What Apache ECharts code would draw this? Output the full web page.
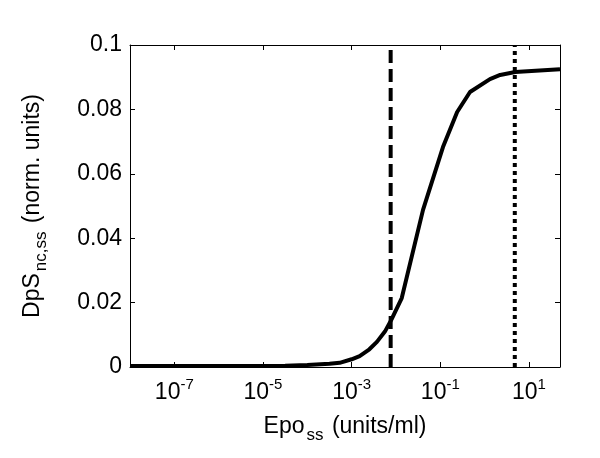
<!DOCTYPE html>
<html>
<head>
<meta charset="utf-8">
<script src="https://cdn.jsdelivr.net/npm/echarts@6/dist/echarts.min.js"></script>
<style>
  html, body { margin: 0; padding: 0; background: #fff; }
  #chart { width: 600px; height: 458px; }
</style>
</head>
<body>
<div id="chart"></div>
<script>
// log10(Epo_ss) and DpS_nc,ss
var epoLog = [-8, -7, -6, -5, -4.5, -4, -3.5, -3.27, -3, -2.82, -2.6, -2.43, -2.25, -2.1, -1.87, -1.39, -0.94, -0.62, -0.33, 0.12, 0.35, 0.69, 1.7];
var dpsValues = [0.0003, 0.0003, 0.0003, 0.0003, 0.0004, 0.0006, 0.0010, 0.0013, 0.0024, 0.0034, 0.0055, 0.0078, 0.0110, 0.0148, 0.0214, 0.0488, 0.0683, 0.0792, 0.0854, 0.0894, 0.0907, 0.0916, 0.0925];
var xTicks = [-7, -5, -3, -1, 1];
var dashedAt = -2.12;   // log10 position of the dashed marker
var dottedAt = 0.68;    // log10 position of the dotted marker

var fontFam = '"Liberation Sans", Arial, sans-serif';

var curve = [];
for (var i = 0; i < epoLog.length; i++) {
    curve.push([epoLog[i], dpsValues[i]]);
}

var frameLine = { show: true, onZero: false, lineStyle: { color: '#000', width: 1 } };
var innerTick = { show: true, inside: true, length: 5, lineStyle: { color: '#000' } };

var chart = echarts.init(document.getElementById('chart'));

chart.setOption({
    animation: false,
    grid: { left: 130, right: 40, top: 45, bottom: 91, containLabel: false },
    xAxis: [{
        type: 'value',
        min: -8,
        max: 1.7,
        interval: 1,
        splitLine: { show: false },
        axisLine: frameLine,
        axisTick: Object.assign({ customValues: xTicks }, innerTick),
        axisLabel: {
            customValues: xTicks,
            margin: 10,
            formatter: function (v) {
                return '{b|10}{s|' + v + '}';
            },
            rich: {
                b: { fontSize: 23, fontFamily: fontFam, color: '#000', verticalAlign: 'bottom' },
                s: { fontSize: 15, fontFamily: fontFam, color: '#000', verticalAlign: 'bottom', padding: [0, 0, 12, 0] }
            }
        },
        name: '{m|Epo}{sub|ss}{m| (units/ml)}',
        nameLocation: 'middle',
        nameGap: 48,
        nameTextStyle: {
            rich: {
                m: { fontSize: 23, fontFamily: fontFam, color: '#000', verticalAlign: 'top' },
                sub: { fontSize: 17, fontFamily: fontFam, color: '#000', verticalAlign: 'top', padding: [12, 2, 0, 2] }
            }
        }
    }, {
        type: 'value',
        position: 'top',
        min: -8,
        max: 1.7,
        interval: 1,
        splitLine: { show: false },
        axisLine: frameLine,
        axisTick: Object.assign({ customValues: xTicks }, innerTick),
        axisLabel: { show: false }
    }],
    yAxis: [{
        type: 'value',
        min: 0,
        max: 0.1,
        interval: 0.02,
        splitLine: { show: false },
        axisLine: frameLine,
        axisTick: innerTick,
        axisLabel: { margin: 8, fontSize: 23, fontFamily: fontFam, color: '#000' },
        name: '{m|DpS}{sub|nc,ss}{m| (norm. units)}',
        nameLocation: 'middle',
        nameGap: 80,
        nameTextStyle: {
            rich: {
                m: { fontSize: 23, fontFamily: fontFam, color: '#000', verticalAlign: 'top' },
                sub: { fontSize: 17, fontFamily: fontFam, color: '#000', verticalAlign: 'top', padding: [12, 2, 0, 2] }
            }
        }
    }, {
        type: 'value',
        position: 'right',
        min: 0,
        max: 0.1,
        interval: 0.02,
        splitLine: { show: false },
        axisLine: frameLine,
        axisTick: innerTick,
        axisLabel: { show: false }
    }],
    series: [{
        type: 'line',
        data: curve,
        showSymbol: false,
        lineStyle: { color: '#000', width: 4 },
        z: 3
    }, {
        type: 'line',
        data: [[dashedAt, 0], [dashedAt, 0.1]],
        showSymbol: false,
        lineStyle: { color: '#000', width: 4, type: [13, 6] },
        z: 2
    }, {
        type: 'line',
        data: [[dottedAt, 0], [dottedAt, 0.1]],
        showSymbol: false,
        lineStyle: { color: '#000', width: 4, type: [4, 4] },
        z: 2
    }]
});
</script>
</body>
</html>
